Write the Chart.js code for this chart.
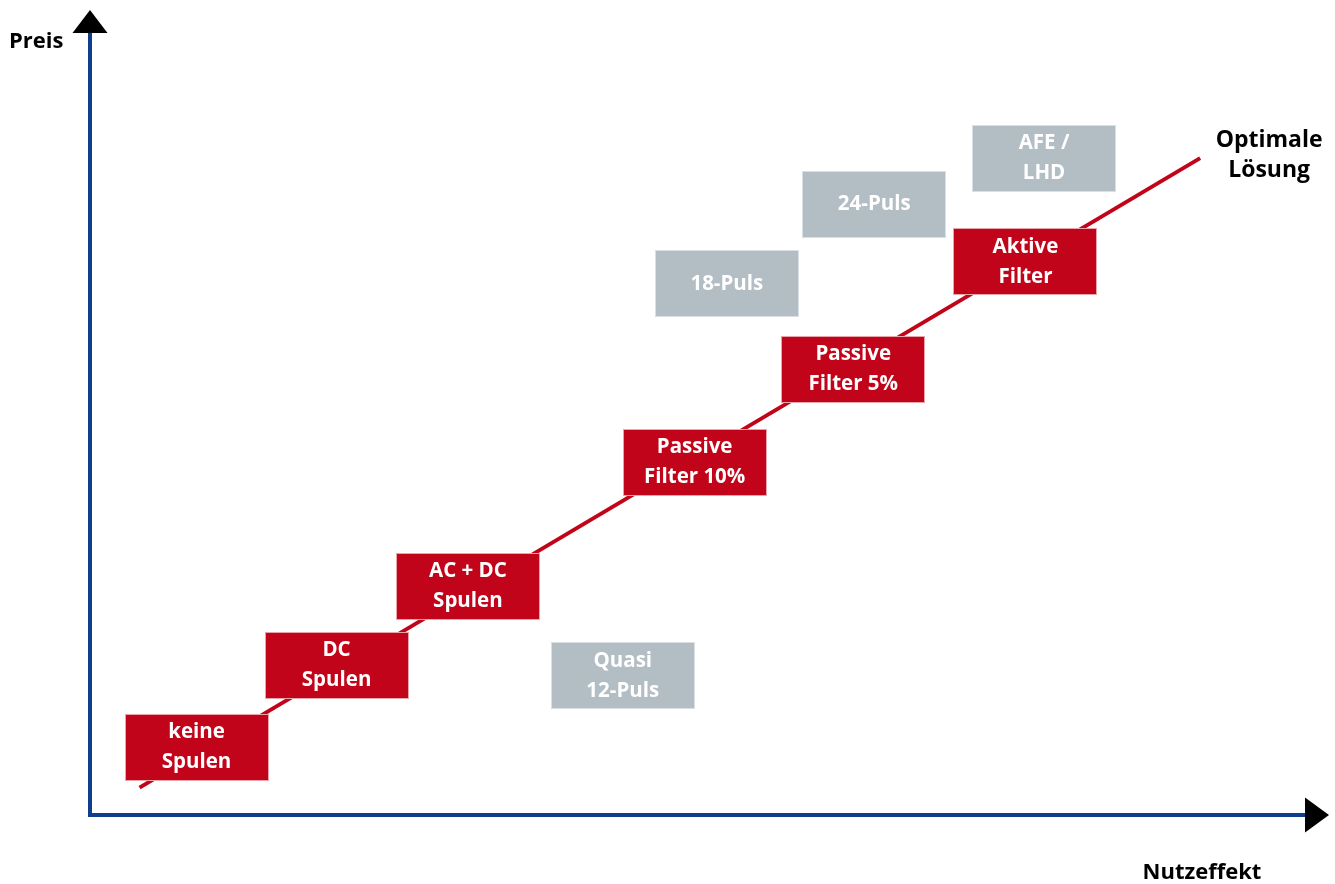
<!DOCTYPE html>
<html>
<head>
<meta charset="utf-8">
<script src="https://cdn.jsdelivr.net/npm/chart.js@4.4.1/dist/chart.umd.min.js"></script>
<style>
  html, body { margin: 0; padding: 0; background: #fff; }
  canvas { display: block; }
</style>
</head>
<body>
<canvas id="chart" width="1335" height="884"></canvas>
<script>
  // Nutzeffekt (x) / Preis (y), both 0..100
  const redLabels = [['keine', 'Spulen'], ['DC', 'Spulen'], ['AC + DC', 'Spulen'], ['Passive', 'Filter 10%'], ['Passive', 'Filter 5%'], ['Aktive', 'Filter']];
  const redX = [8.6, 19.9, 30.5, 48.8, 61.6, 75.5];
  const redY = [8.4, 18.6, 28.4, 43.8, 55.4, 68.7];

  const grayLabels = [['Quasi', '12-Puls'], ['18-Puls'], ['24-Puls'], ['AFE /', 'LHD']];
  const grayX = [43.0, 51.4, 63.3, 77.0];
  const grayY = [17.3, 66.0, 75.9, 81.6];

  const trendX = [4.0, 89.6];
  const trendY = [3.4, 81.6];

  const axisTitleX = 'Nutzeffekt';
  const axisTitleY = 'Preis';
  const trendTitle = ['Optimale', 'Lösung'];

  const RED = '#c10419';
  const GRAY = '#b3bec4';
  const BLUE = '#0f3f8c';
  const FONT = '"Open Sans", "Noto Sans", sans-serif';

  function points(xs, ys) {
    return xs.map((x, i) => ({ x: x, y: ys[i] }));
  }

  var axesPlugin = {
    id: 'arrowAxes',
    beforeDatasetsDraw(chart) {
      var ctx = chart.ctx;
      var xs = chart.scales.x, ys = chart.scales.y;
      var x0 = xs.getPixelForValue(0), y0 = ys.getPixelForValue(0);
      var xEnd = xs.getPixelForValue(xs.max), yEnd = ys.getPixelForValue(ys.max);

      ctx.save();
      ctx.strokeStyle = BLUE;
      ctx.lineWidth = 4;
      ctx.beginPath();
      ctx.moveTo(x0, yEnd + 22);
      ctx.lineTo(x0, y0);
      ctx.lineTo(xEnd - 22, y0);
      ctx.stroke();

      ctx.fillStyle = '#000';
      ctx.beginPath();
      ctx.moveTo(x0, yEnd);
      ctx.lineTo(x0 + 17.5, yEnd + 23);
      ctx.lineTo(x0 - 17.5, yEnd + 23);
      ctx.closePath();
      ctx.fill();

      ctx.beginPath();
      ctx.moveTo(xEnd, y0);
      ctx.lineTo(xEnd - 24, y0 - 17.5);
      ctx.lineTo(xEnd - 24, y0 + 17.5);
      ctx.closePath();
      ctx.fill();

      ctx.font = 'bold 22px ' + FONT;
      ctx.textBaseline = 'middle';
      ctx.textAlign = 'left';
      ctx.fillText(axisTitleY, 9, yEnd + 32);
      ctx.textAlign = 'center';
      ctx.fillText(axisTitleX, xEnd - 127, y0 + 58);
      ctx.restore();
    },
    afterDatasetsDraw(chart) {
      var ctx = chart.ctx;
      ctx.save();
      chart.data.datasets.forEach((ds, di) => {
        if (!ds.boxLabels) {
          return;
        }
        var meta = chart.getDatasetMeta(di);
        meta.data.forEach((el, i) => {
          var w = 144, h = 67;
          var left = Math.round(el.x - w / 2), top = Math.round(el.y - h / 2);
          ctx.fillStyle = ds.boxColor;
          ctx.fillRect(left, top, w, h);
          ctx.strokeStyle = ds.boxEdge;
          ctx.lineWidth = 1;
          ctx.strokeRect(left + 0.5, top + 0.5, w - 1, h - 1);

          var lines = ds.boxLabels[i];
          ctx.fillStyle = '#fff';
          ctx.font = 'bold 20.5px ' + FONT;
          ctx.textAlign = 'center';
          ctx.textBaseline = 'middle';
          lines.forEach((t, k) => {
            ctx.fillText(t, el.x, el.y + (k - (lines.length - 1) / 2) * 30);
          });
        });
      });

      // label at the end of the trend line
      var trend = chart.getDatasetMeta(0).data;
      var end = trend[trend.length - 1];
      ctx.fillStyle = '#000';
      ctx.font = 'bold 23px ' + FONT;
      ctx.textAlign = 'center';
      ctx.textBaseline = 'middle';
      ctx.fillText(trendTitle[0], end.x + 69, end.y - 18);
      ctx.fillText(trendTitle[1], end.x + 69, end.y + 12);
      ctx.restore();
    }
  };

  new Chart(document.getElementById('chart').getContext('2d'), {
    type: 'scatter',
    data: {
      datasets: [{
        data: points(trendX, trendY),
        showLine: true,
        borderColor: RED,
        borderWidth: 4,
        pointRadius: 0
      }, {
        data: points(redX, redY),
        boxLabels: redLabels,
        boxColor: RED,
        boxEdge: '#e9a3ab',
        pointRadius: 0
      }, {
        data: points(grayX, grayY),
        boxLabels: grayLabels,
        boxColor: GRAY,
        boxEdge: '#d9dfe2',
        pointRadius: 0
      }]
    },
    options: {
      responsive: false,
      animation: false,
      events: [],
      layout: {
        padding: { left: 90, right: 6, top: 10, bottom: 69 }
      },
      plugins: {
        legend: { display: false },
        tooltip: { enabled: false }
      },
      scales: {
        x: { type: 'linear', min: 0, max: 100, display: false },
        y: { type: 'linear', min: 0, max: 100, display: false }
      }
    },
    plugins: [axesPlugin]
  });
</script>
</body>
</html>
